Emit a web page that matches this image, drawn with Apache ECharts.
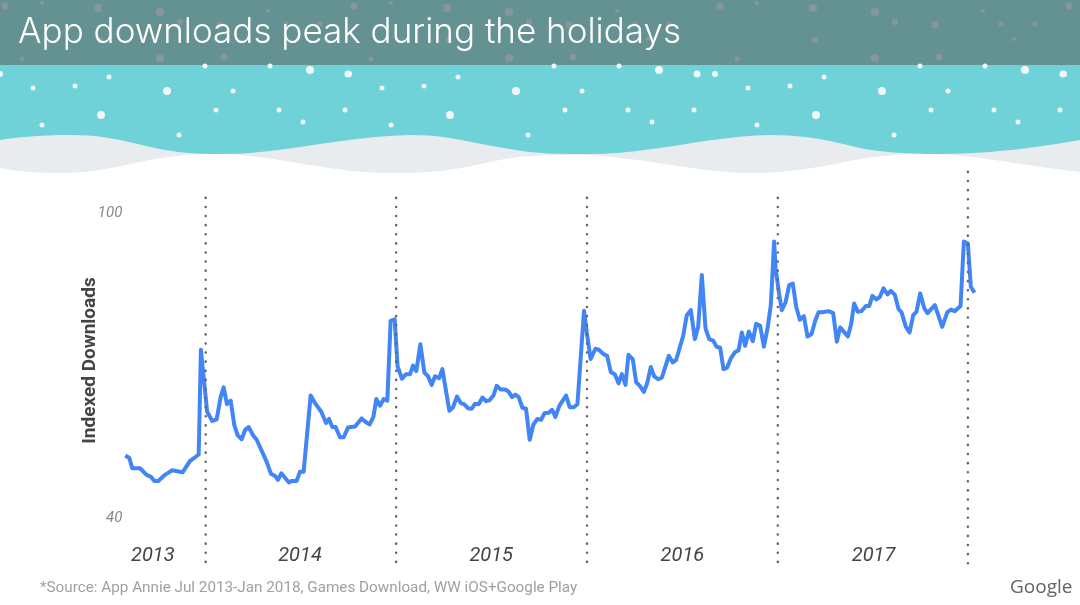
<!DOCTYPE html>
<html>
<head>
<meta charset="utf-8">
<style>html,body{margin:0;padding:0;background:#fff}#main{width:1080px;height:605px}</style>
<script src="https://cdn.jsdelivr.net/npm/echarts@6/dist/echarts.min.js"></script>
</head>
<body>
<div id="main"></div>
<script>
// weeks since the first reading (Jul 2013)
var weeks = [0,1.1,1.9,4,5.8,7,7.9,9,10.8,12.8,15.6,17.6,20,20.6,21.3,22.3,23.7,24.9,26,26.8,27.7,28.7,29.7,30.6,31.7,32.7,33.6,34.9,35.8,38.5,39.7,40.9,41.6,42.5,44.6,45.3,46.7,47.6,48.6,50.5,51.7,53.4,54.7,55.5,56.4,57.3,58.5,59.5,60.7,62.6,64.4,65.5,66.6,67.6,68.4,69.4,70.4,71.4,72.3,73.4,74.2,75.4,76.5,77.6,78.4,79.3,80.4,81.5,82.5,83.5,84.4,85.5,86.4,88.3,89.3,90.4,91.4,92.3,93.4,94.4,95.3,96.3,97.3,98.3,99.3,100.3,101.2,102.3,103.5,104.4,105.4,106.3,107.2,108.2,109.2,110.2,111.2,112.3,113.3,114.2,115.4,116.3,117.2,118.3,120.1,121.1,122.2,123.2,125,125.9,126.8,128.1,129,130.2,131.3,132.3,133.4,134.4,135.3,136.3,137.1,138.3,139.2,140.2,141.3,142.2,143.2,144.1,145.2,146.2,148.1,149.2,150.1,152,153,154.1,155.2,156.1,157.1,158.1,159.1,160.2,161.1,162.1,163,164,165,166.1,167.1,168,168.9,169.9,171,171.9,173,174,175,175.9,176.8,177.2,178.2,178.9,179.9,180.9,181.9,182.8,183.8,184.9,185.9,187,188,188.9,190,191.6,192.9,193.9,194.8,196.9,197.8,198.6,199.6,200.6,201.8,202.7,203.6,204.7,205.6,206.6,207.7,208.6,209.7,210.7,211.5,212.7,213.7,214.7,215.6,216.6,217.7,218.6,220.6,222.6,224,225,226,227.6,228.5,229.6,230.4,231.4];
var downloads = [51.9,51.4,49.4,49.4,48.1,47.7,46.9,46.9,48.1,49,48.6,50.8,52.1,72.7,67.7,60.5,58.7,59,63.5,65.3,62,62.7,57.9,55.9,55.1,57,57.5,55.8,55,50.7,48.3,47.8,47.1,48.4,46.6,46.9,46.9,48.7,48.7,63.7,62.2,60.5,58.3,59.1,57.5,57.5,55.5,55.5,57.4,57.6,59.2,58.5,58,59.5,63,61.7,63,62.7,78.4,78.7,69.4,67,67.9,67.9,69.6,68.5,73.8,68.2,67.5,65.8,67.5,67.1,68.9,60.7,61.4,63.5,62.2,62,61.2,61.1,62.1,62,63.3,62.6,62.8,63.7,65.6,64.9,64.9,64.5,63.4,63.9,63.4,61.3,61.1,55,58,59.1,58.9,60.2,60.3,60.9,59.5,61.7,63.7,61.4,61.4,62,80.4,75.3,70.9,72.9,72.7,71.9,71.5,68.3,67.9,66.1,67.9,65.8,71.7,70.8,66.3,65.6,64.4,66.1,69.3,67.5,66.9,67.2,71.5,70.2,70.7,75.4,79.5,80.5,74.8,77.2,87.4,76.9,74.8,74.5,73.3,73.1,68.9,69.2,71,72.2,72.6,76.1,73.5,76.3,74.4,77.8,77.4,73.3,76.9,81.5,94,88.7,83.5,80.5,82,85.4,85.7,81.2,78.6,79.3,75.3,75.8,78.4,80.1,80.1,80.3,79.9,74.3,77.1,75.3,77.8,81.8,80.2,80.3,81.3,81.3,83.3,82.6,83.1,84.8,83.6,84.3,83.5,80.7,80.1,77.2,76.1,79.5,80.2,83.8,80.9,79.9,81.5,77.2,80.1,80.6,80.3,81.3,94,93.6,85.1,83.9];
var yearLabels = ['2013','2014','2015','2016','2017'];
var yearLabelWeeks = [7.5,47.6,99.7,151.8,203.9];
var dividerWeeks = [21.9,73.8,125.8,177.8,229.6];
var dividerTops = [102.6,102.6,102.6,102.6,107.7];
var dividerBottom = 30.4;
var yTicks = [40,100];

// snow pattern, repeated across the banner
var tileOffsets = [0,349,715,1064];
var headerFlakes = [[5,6,3.5],[42,3,2],[98,8,4],[160,12,4],[180,22,3],[220,25,3.5],[268,11,2],[22,59,2.5],[160,58,4],[224,57,3.5],[100,40,3],[286,24,2.5],[299,39,2],[320,24,2.5]];
var skyFlakes = [[0,74,3],[33,88,2.5],[75,86,2.5],[109,77,2.5],[167,91,4],[205,66,2.5],[233,91,2.5],[216,110,2.5],[101,115,4],[42,125,2.5],[179,135,2.5],[279,110,2.5],[345,110,2.5],[303,122,2.5],[270,66,2.5],[310,70,4],[348,74,3.5]];

// snow drifts: start point, then bezier triples
var backDrift = [0,140, 25,136,50,135,70,135, 110,135,130,143,160,149, 185,154,205,154,225,154, 280,154,340,137,410,135, 450,135,470,143,510,149, 535,154,560,154,590,154, 650,154,710,136,770,135, 810,135,835,142,860,148, 885,153,915,154,940,154, 990,154,1040,147,1080,140];
var frontDrift = [0,168, 20,172,40,173,60,173, 95,173,115,167,145,161, 170,156,190,154,215,154, 260,154,300,165,345,170, 365,173,385,173,405,173, 445,173,470,166,500,160, 525,155,550,155,585,155, 640,157,700,173,750,173, 790,173,820,167,850,161, 875,156,900,154,930,154, 980,155,1030,167,1080,172];

function driftPoints(c) {
  var pts = [[c[0], c[1]]];
  for (var i = 2; i < c.length; i += 6) {
    var x0 = c[i-2], y0 = c[i-1];
    for (var k = 1; k <= 12; k++) {
      var t = k / 12, u = 1 - t;
      pts.push([
        u*u*u*x0 + 3*u*u*t*c[i] + 3*u*t*t*c[i+2] + t*t*t*c[i+4],
        u*u*u*y0 + 3*u*u*t*c[i+1] + 3*u*t*t*c[i+3] + t*t*t*c[i+5]
      ]);
    }
  }
  pts.push([1080,180], [0,180]);
  return pts;
}

var graphics = [
  {type:'rect', z:-10, shape:{x:0,y:0,width:1080,height:65}, style:{fill:'#649292'}},
  {type:'rect', z:-10, shape:{x:0,y:65,width:1080,height:110}, style:{fill:'#6fd2d8'}},
  {type:'polygon', z:-8, shape:{points:driftPoints(backDrift)}, style:{fill:'#e9ecef'}},
  {type:'polygon', z:-7, shape:{points:driftPoints(frontDrift)}, style:{fill:'#fff'}}
];
tileOffsets.forEach(function (dx) {
  headerFlakes.forEach(function (f) {
    graphics.push({type:'circle', z:-9, shape:{cx:f[0]+dx, cy:f[1], r:f[2]}, style:{fill:'#9a9a9c', opacity:0.65}});
  });
  skyFlakes.forEach(function (f) {
    graphics.push({type:'circle', z:-9, shape:{cx:f[0]+dx, cy:f[1], r:f[2]}, style:{fill:'#eef6f8'}});
  });
});
graphics.push({type:'text', left:1010, top:578, style:{text:'Google', fill:'#5f6368', font:'500 19px "Open Sans"'}});
graphics.push({type:'text', left:40, top:581, style:{text:'*Source: App Annie Jul 2013-Jan 2018, Games Download, WW iOS+Google Play', fill:'#a0a0a0', font:'15.25px Roboto'}});

var seriesList = [{
  type: 'line',
  data: weeks.map(function (w, i) { return [w, downloads[i]]; }),
  showSymbol: false,
  clip: false,
  lineStyle: {color:'#4285f4', width:4, join:'round'}
}];
// year dividers run past the plot area, so they are unclipped line series
dividerWeeks.forEach(function (w, i) {
  seriesList.push({
    type: 'line',
    silent: true,
    z: 3,
    clip: false,
    showSymbol: false,
    data: [[w, dividerTops[i]], [w, dividerBottom]],
    lineStyle: {color:'#666', width:2.5, type:[0.1,9], cap:'round'}
  });
});

var myChart = echarts.init(document.getElementById('main'));
var option = {
  backgroundColor: '#fff',
  animation: false,
  title: {
    text: 'App downloads peak during the holidays',
    left: 13, top: 10,
    textStyle: {color:'#fff', fontFamily:'Inter', fontWeight:300, fontSize:35}
  },
  graphic: graphics,
  grid: {left:125.3, top:211, width:851.4, height:305},
  xAxis: {
    type: 'value', min: 0, max: 232,
    axisLine: {show:false}, axisTick: {show:false}, splitLine: {show:false},
    axisLabel: {
      customValues: yearLabelWeeks,
      margin: 30,
      color: '#444',
      fontFamily: 'Roboto', fontStyle: 'italic', fontSize: 20,
      formatter: function (v) { return yearLabels[yearLabelWeeks.indexOf(v)]; }
    }
  },
  yAxis: {
    type: 'value', min: 40, max: 100,
    name: 'Indexed Downloads',
    nameLocation: 'middle', nameGap: 26,
    nameMoveOverlap: false,
    nameTextStyle: {color:'#444', fontFamily:'Roboto', fontWeight:'bold', fontSize:19, padding:[0,0,0,6]},
    axisLine: {show:false}, axisTick: {show:false}, splitLine: {show:false},
    axisLabel: {
      customValues: yTicks,
      margin: 3,
      formatter: '{t|{value}}',
      rich: {
        t: {color:'#888', fontFamily:'Roboto', fontStyle:'italic', fontSize:15, padding:[4,0,0,0]}
      }
    }
  },
  series: seriesList
};
myChart.setOption(option);
</script>
</body>
</html>
